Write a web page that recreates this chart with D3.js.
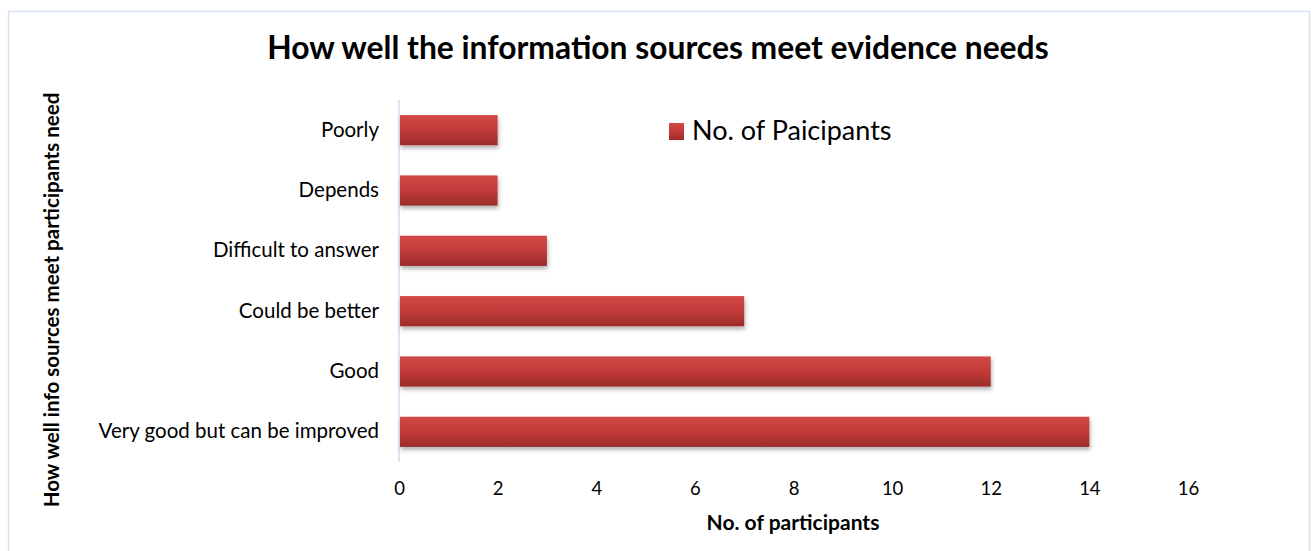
<!DOCTYPE html>
<html><head><meta charset="utf-8">
<script src="https://cdn.jsdelivr.net/npm/d3@7/dist/d3.min.js"></script>
<style>body{margin:0;background:#fff}svg{display:block}text{font-family:Lato,"Open Sans",sans-serif}</style>
</head><body>
<script>
const categories = ["Poorly","Depends ","Difficult to answer","Could be better","Good","Very good but can be improved"];
const values = [2,2,3,7,12,14];
const xTicks = [0,2,4,6,8,10,12,14,16];
const seriesName = "No. of Paicipants";
const title = "How well the information sources meet evidence needs";
const xTitle = "No. of participants";
const yTitle = "How well info sources meet participants need";

const W=1316,H=551;
const svg=d3.select("body").append("svg").attr("width",W).attr("height",H);
const defs=svg.append("defs");
const g=defs.append("linearGradient").attr("id","bg").attr("x1",0).attr("y1",0).attr("x2",0).attr("y2",1);
g.append("stop").attr("offset","0%").attr("stop-color","#d24a48");
g.append("stop").attr("offset","45%").attr("stop-color","#c43c3a");
g.append("stop").attr("offset","100%").attr("stop-color","#9c2b2a");
const f=defs.append("filter").attr("id","sh").attr("x","-10%").attr("y","-30%").attr("width","130%").attr("height","180%");
f.append("feDropShadow").attr("dx",1).attr("dy",3).attr("stdDeviation",2).attr("flood-color","#000").attr("flood-opacity",0.3);

svg.append("rect").attr("x",8.5).attr("y",11.5).attr("width",1301).attr("height",545).attr("fill","#fff").attr("stroke","#d5e2f2").attr("stroke-width",1.5);

const x=d3.scaleLinear().domain([0,16]).range([399,1188]);
const y=d3.scaleBand().domain(categories).range([100,462]).paddingInner(0.5).paddingOuter(0.25);

svg.append("text").attr("x",658).attr("y",59).attr("text-anchor","middle").attr("font-size",31.8).attr("font-weight","bold").attr("fill","#000").text(title);

svg.append("line").attr("x1",x(0)).attr("x2",x(0)).attr("y1",100).attr("y2",462).attr("stroke","#d0dcef").attr("stroke-width",1.5);

svg.selectAll(".bar").data(values).enter().append("rect")
 .attr("x",x(0)+1).attr("y",(d,i)=>y(categories[i]))
 .attr("width",d=>x(d)-x(0)-1).attr("height",y.bandwidth())
 .attr("fill","url(#bg)").attr("filter","url(#sh)");

const xa=svg.append("g").attr("transform","translate(0,462)").call(d3.axisBottom(x).tickValues(xTicks).tickSize(0).tickPadding(20));
xa.select(".domain").remove();
xa.selectAll("text").attr("font-size",18.5).attr("fill","#000").style("font-family","Lato,'Open Sans',sans-serif");

const ya=svg.append("g").attr("transform","translate(399,0)").call(d3.axisLeft(y).tickSize(0).tickPadding(20));
ya.select(".domain").remove();
ya.selectAll("text").attr("font-size",20.5).attr("fill","#000").style("font-family","Lato,'Open Sans',sans-serif");

svg.append("text").attr("x",793).attr("y",530).attr("text-anchor","middle").attr("font-size",21).attr("font-weight","bold").text(xTitle);
svg.append("text").attr("transform","translate(59,300) rotate(-90)").attr("text-anchor","middle").attr("font-size",20.5).attr("font-weight","bold").text(yTitle);

svg.append("rect").attr("x",669).attr("y",123).attr("width",15).attr("height",17).attr("fill","url(#bg)");
svg.append("text").attr("x",692).attr("y",140).attr("font-size",27).text(seriesName);
</script>
</body></html>
